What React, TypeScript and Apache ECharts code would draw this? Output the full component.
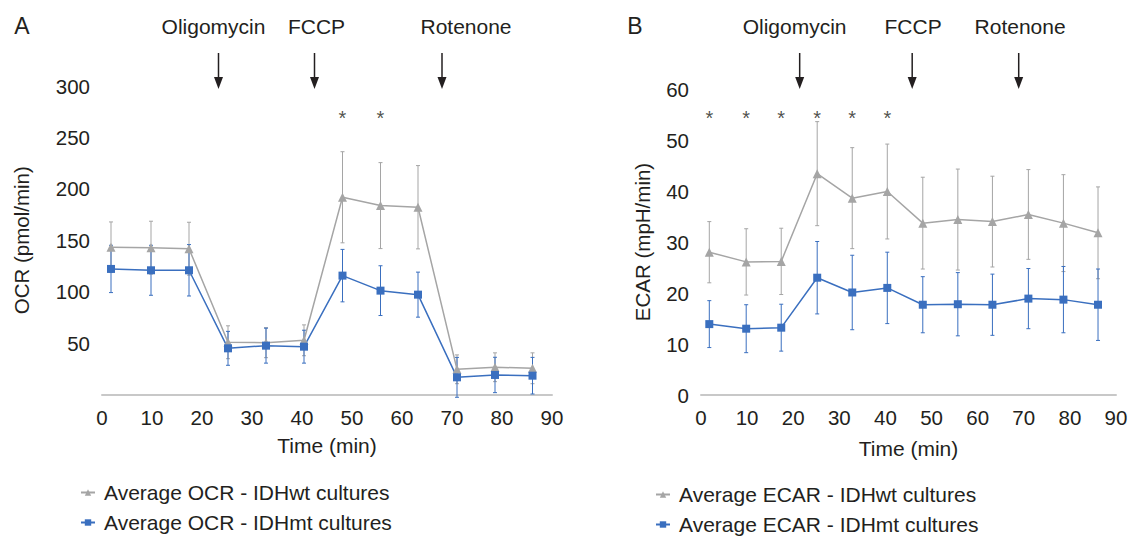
import React, { useEffect, useRef } from "react";
import * as echarts from "echarts";

const times = [1.8, 9.8, 17.4, 25.2, 32.8, 40.4, 48.1, 55.7, 63.2, 71.0, 78.6, 86.1];

const ocrWt = [143.2, 142.8, 141.8, 50.8, 50.4, 52.7, 191.8, 183.7, 182.1, 24.5, 26.5, 25.5];
const ocrWtErr = [24.6, 25.7, 25.7, 16, 14.6, 15, 44.3, 41.8, 40.5, 14, 14, 15];
const ocrMt = [122.1, 120.8, 120.8, 44.9, 47.5, 46.5, 115.6, 101, 97.1, 16.7, 19.0, 18.3];
const ocrMtErr = [23, 24.3, 25, 16.5, 17, 16, 25.5, 24.2, 21.9, 19.4, 17.2, 17.8];

const ecarWt = [28.0, 26.1, 26.2, 43.4, 38.6, 39.9, 33.7, 34.4, 34.0, 35.4, 33.7, 31.8];
const ecarWtErr = [6.0, 6.5, 6.5, 10.2, 9.9, 9.3, 9.0, 9.9, 8.9, 8.8, 9.5, 9.0];
const ecarMt = [13.9, 13.0, 13.2, 23.0, 20.1, 21.0, 17.7, 17.8, 17.7, 18.9, 18.7, 17.7];
const ecarMtErr = [4.6, 4.7, 4.6, 7.1, 7.3, 7.0, 5.5, 6.2, 6.0, 5.9, 6.5, 7.0];

const ocrSigIdx = [6, 7];
const ecarSigIdx = [0, 1, 2, 3, 4, 5];
const ocrStarY = 269;
const ecarStarY = 54.3;

const drugs = ["Oligomycin", "FCCP", "Rotenone"];
const ocrArrowT = [23.3, 42.5, 68.0];
const ocrLabelT = [22.3, 42.9, 72.8];
const ecarArrowT = [21.4, 45.8, 68.9];
const ecarLabelT = [20.3, 46.0, 69.2];

const ocrTicks = [0, 50, 100, 150, 200, 250, 300];
const ecarTicks = [0, 10, 20, 30, 40, 50, 60];

const names = {
  ocrWt: "Average OCR - IDHwt cultures",
  ocrMt: "Average OCR - IDHmt cultures",
  ecarWt: "Average ECAR - IDHwt cultures",
  ecarMt: "Average ECAR - IDHmt cultures",
};

const GRAY = "#a5a5a5";
const BLUE = "#3a6fbf";
const TEXT = "#231f20";
const FONT = "'Liberation Sans', Arial, Helvetica, sans-serif";

function errSeries(grid: number, vals: number[], errs: number[], color: string) {
  return {
    type: "custom",
    xAxisIndex: grid,
    yAxisIndex: grid,
    clip: false,
    z: 1,
    silent: true,
    encode: { x: 0, y: 1 },
    data: times.map((t, i) => [t, vals[i], errs[i]]),
    renderItem: (params: any, api: any) => {
      const x = api.value(0);
      const y = api.value(1);
      const e = api.value(2);
      const top = api.coord([x, y + e]);
      const bot = api.coord([x, y - e]);
      const cw = 2;
      const st = { stroke: color, lineWidth: 1 };
      return {
        type: "group",
        children: [
          { type: "line", shape: { x1: top[0], y1: top[1], x2: bot[0], y2: bot[1] }, style: st },
          { type: "line", shape: { x1: top[0] - cw, y1: top[1], x2: top[0] + cw, y2: top[1] }, style: st },
          { type: "line", shape: { x1: bot[0] - cw, y1: bot[1], x2: bot[0] + cw, y2: bot[1] }, style: st },
        ],
      };
    },
  };
}

function lineSeries(grid: number, name: string, vals: number[], color: string, symbol: string, size: number) {
  return {
    type: "line",
    name,
    xAxisIndex: grid,
    yAxisIndex: grid,
    data: times.map((t, i) => [t, vals[i]]),
    symbol,
    symbolSize: size,
    showAllSymbol: true,
    lineStyle: { color, width: 1.5 },
    itemStyle: { color },
    z: 3,
  };
}

function starSeries(grid: number, idx: number[], yv: number) {
  return {
    type: "scatter",
    xAxisIndex: grid,
    yAxisIndex: grid,
    symbolSize: 0,
    silent: true,
    data: idx.map((i) => [times[i], yv]),
    label: {
      show: true,
      position: "inside",
      formatter: "*",
      fontSize: 20,
      color: TEXT,
      fontFamily: FONT,
    },
    z: 4,
  };
}

function xAxis(grid: number, nameGap: number) {
  return {
    type: "value",
    gridIndex: grid,
    min: 0,
    max: 90,
    interval: 10,
    name: "Time (min)",
    nameLocation: "middle",
    nameGap,
    nameTextStyle: { fontSize: 21, color: TEXT, fontFamily: FONT },
    axisLine: { show: true, lineStyle: { color: "#c8c8c8", width: 2 } },
    axisTick: { show: false },
    splitLine: { show: false },
    axisLabel: { fontSize: 20.5, color: TEXT, fontFamily: FONT, margin: 12 },
  };
}

function yAxis(grid: number, name: string, ticks: number[], nameGap: number, showMin: boolean) {
  return {
    type: "value",
    gridIndex: grid,
    min: ticks[0],
    max: ticks[ticks.length - 1],
    interval: ticks[1] - ticks[0],
    name,
    nameLocation: "middle",
    nameGap,
    nameTextStyle: { fontSize: 20.5, color: TEXT, fontFamily: FONT },
    axisLine: { show: false },
    axisTick: { show: false },
    splitLine: { show: false },
    axisLabel: { fontSize: 20.5, color: TEXT, fontFamily: FONT, margin: 12, showMinLabel: showMin },
  };
}

function legend(data: string[], left: number, top: number) {
  return {
    data,
    orient: "vertical",
    left,
    top,
    padding: 0,
    itemGap: 9,
    itemWidth: 14,
    itemHeight: 8,
    textStyle: { fontSize: 21, color: TEXT, fontFamily: FONT, padding: [0, 0, 0, 4] },
  };
}

export default function App() {
  const ref = useRef<HTMLDivElement>(null);
  useEffect(() => {
    if (!ref.current) return;
    const chart = echarts.init(ref.current, null, { renderer: "svg" });
    const option: any = {
      animation: false,
      backgroundColor: "#ffffff",
      textStyle: { fontFamily: FONT },
      grid: [
        { left: 102, top: 86, width: 450, height: 308.5 },
        { left: 701, top: 89, width: 415, height: 306 },
      ],
      xAxis: [xAxis(0, 40), xAxis(1, 43)],
      yAxis: [
        yAxis(0, "OCR (pmol/min)", ocrTicks, 70, false),
        yAxis(1, "ECAR (mpH/min)", ecarTicks, 48, true),
      ],
      legend: [legend([names.ocrWt, names.ocrMt], 80, 482), legend([names.ecarWt, names.ecarMt], 655, 484)],
      series: [
        errSeries(0, ocrWt, ocrWtErr, GRAY),
        errSeries(0, ocrMt, ocrMtErr, BLUE),
        lineSeries(0, names.ocrWt, ocrWt, GRAY, "triangle", 9),
        lineSeries(0, names.ocrMt, ocrMt, BLUE, "rect", 8),
        starSeries(0, ocrSigIdx, ocrStarY),
        errSeries(1, ecarWt, ecarWtErr, GRAY),
        errSeries(1, ecarMt, ecarMtErr, BLUE),
        lineSeries(1, names.ecarWt, ecarWt, GRAY, "triangle", 9),
        lineSeries(1, names.ecarMt, ecarMt, BLUE, "rect", 8),
        starSeries(1, ecarSigIdx, ecarStarY),
      ],
    };
    chart.setOption(option);

    const graphics: any[] = [];
    const addPanel = (grid: number, letter: string, letterX: number, arrowT: number[], labelT: number[]) => {
      graphics.push({
        type: "text",
        x: letterX,
        y: 26,
        style: { text: letter, fontSize: 23, fontFamily: FONT, fill: TEXT, textAlign: "center", textVerticalAlign: "middle" },
      });
      drugs.forEach((d, i) => {
        const lx = chart.convertToPixel({ xAxisIndex: grid } as any, labelT[i]) as number;
        const ax = chart.convertToPixel({ xAxisIndex: grid } as any, arrowT[i]) as number;
        graphics.push({
          type: "text",
          x: lx,
          y: 26,
          style: { text: d, fontSize: 21, fontFamily: FONT, fill: TEXT, textAlign: "center", textVerticalAlign: "middle" },
        });
        graphics.push({
          type: "line",
          shape: { x1: ax, y1: 53, x2: ax, y2: 80 },
          style: { stroke: TEXT, lineWidth: 1.5 },
        });
        graphics.push({
          type: "polygon",
          shape: { points: [[ax - 4.5, 77], [ax + 4.5, 77], [ax, 89]] },
          style: { fill: TEXT },
        });
      });
    };
    addPanel(0, "A", 22, ocrArrowT, ocrLabelT);
    addPanel(1, "B", 635, ecarArrowT, ecarLabelT);
    chart.setOption({ graphic: graphics });

    return () => chart.dispose();
  }, []);
  return (
    <div
      ref={ref}
      style={{ position: "fixed", left: 0, top: 0, width: 1131, height: 537, background: "#fff" }}
    />
  );
}
